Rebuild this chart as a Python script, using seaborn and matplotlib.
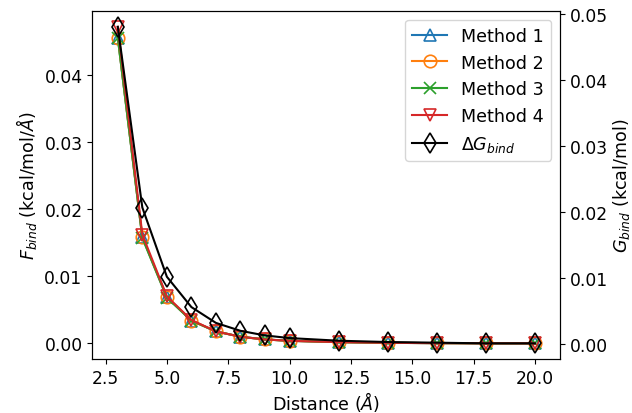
import numpy as np
import pandas as pd
import matplotlib
matplotlib.use("Agg")
import matplotlib.pyplot as plt
import seaborn as sns

# distances (Angstrom)
distance = [3, 4, 5, 6, 7, 8, 9, 10, 12, 14, 16, 18, 20]

# binding force per method (kcal/mol/A)
method_1 = [0.0455, 0.0158, 0.0069, 0.0034, 0.0018, 0.0010, 0.0006, 0.0004, 0.0002, 0.0001, 0.00005, 0.00003, 0.00002]
method_2 = [0.0455, 0.0158, 0.0069, 0.0034, 0.0018, 0.0010, 0.0006, 0.0004, 0.0002, 0.0001, 0.00005, 0.00003, 0.00002]
method_3 = [0.0455, 0.0157, 0.0068, 0.0034, 0.0018, 0.0010, 0.0006, 0.0004, 0.0002, 0.0001, 0.00005, 0.00003, 0.00002]
method_4 = [0.0471, 0.0162, 0.0070, 0.0035, 0.0018, 0.0010, 0.0006, 0.0004, 0.0002, 0.0001, 0.00005, 0.00003, 0.00002]

# binding free energy (kcal/mol)
delta_g = [0.0481, 0.0207, 0.0102, 0.0056, 0.0032, 0.0020, 0.0013, 0.0009, 0.0005, 0.0003, 0.0002, 0.0001, 0.0001]

labels = ["Method 1", "Method 2", "Method 3", "Method 4"]
markers = ["^", "o", "x", "v"]
colors = sns.color_palette("tab10")

plt.rcParams["font.size"] = 12.6
plt.rcParams["xtick.labelsize"] = 12.3
plt.rcParams["ytick.labelsize"] = 12.3

fig, ax = plt.subplots(figsize=(6.32, 4.14), dpi=100)
ax2 = ax.twinx()

for i, series in enumerate([method_1, method_2, method_3, method_4]):
    sns.lineplot(x=distance, y=series, ax=ax, color=colors[i], marker=markers[i],
                 markersize=9, markerfacecolor="none", markeredgecolor=colors[i],
                 markeredgewidth=1.2, linewidth=1.5)

sns.lineplot(x=distance, y=delta_g, ax=ax2, color="black", marker="d",
             markersize=10, markerfacecolor="none", markeredgecolor="black",
             markeredgewidth=1.2, linewidth=1.5)

ax.set_xlim(1.96, 21.02)
ax.set_xlabel(r"Distance ($\AA$)", labelpad=1.5)
ax.set_ylabel(r"$F_{bind}$ (kcal/mol/$\AA$)")
ax2.set_ylabel(r"$G_{bind}$ (kcal/mol)", labelpad=2.5)

handles = list(ax.get_lines()) + list(ax2.get_lines())
names = labels + [r"$\Delta G_{bind}$"]
for a in (ax, ax2):
    if a.get_legend() is not None:
        a.get_legend().remove()
ax2.legend(handles, names, loc="upper right")

plt.subplots_adjust(left=0.146, right=0.886, top=0.971, bottom=0.130)
plt.savefig("out.png")
